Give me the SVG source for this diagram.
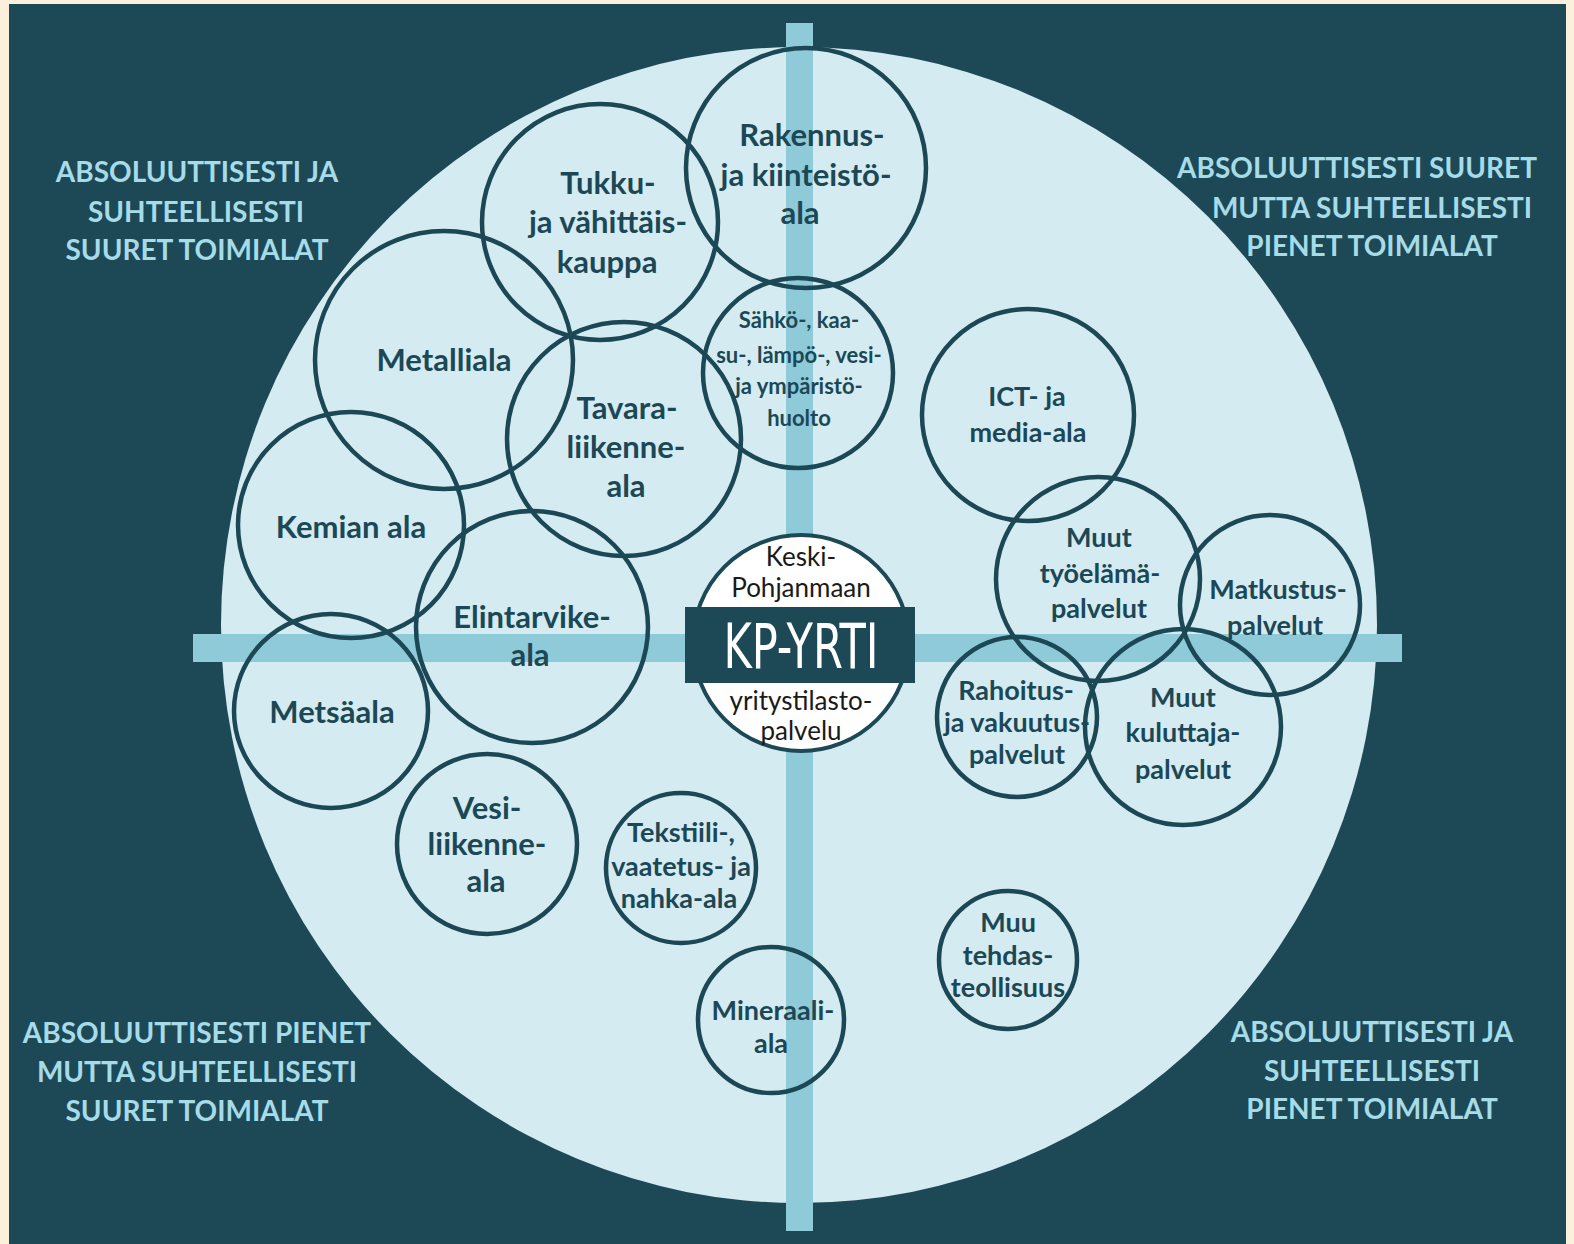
<svg xmlns="http://www.w3.org/2000/svg" width="1574" height="1244" viewBox="0 0 1574 1244">
<defs>
<style>
.node{fill:none;stroke:#1c4856;stroke-width:4.5}
.lbl{font-family:Lato,"Open Sans","Liberation Sans",sans-serif;font-weight:bold;font-size:31px;fill:#1c4856;text-anchor:middle}
.md{font-size:27px}
.sm{font-size:22px}
.corner{font-family:Lato,"Open Sans","Liberation Sans",sans-serif;font-weight:bold;font-size:28px;fill:#a6dbe7;text-anchor:middle}
.ctr{font-family:Lato,"Open Sans","Liberation Sans",sans-serif;font-size:26px;fill:#1a1a1a;text-anchor:middle}
.bar{fill:#8ecad8}
</style>
</defs>
<rect x="0" y="0" width="1574" height="1244" fill="#fbf0db"/>
<rect x="9" y="4" width="1557" height="1240" fill="#1d4957"/>
<circle cx="799" cy="625" r="578" fill="#d4ebf1"/>
<g id="axes">
<rect class="bar" x="786" y="23" width="27" height="1208"/>
<rect class="bar" x="193" y="634" width="1209" height="28"/>
</g>
<g id="corner-labels">
<text class="corner" x="197" y="182">ABSOLUUTTISESTI JA</text>
<text class="corner" x="196" y="222">SUHTEELLISESTI</text>
<text class="corner" x="197" y="260">SUURET TOIMIALAT</text>
<text class="corner" x="1357" y="178" font-size="27">ABSOLUUTTISESTI SUURET</text>
<text class="corner" x="1372" y="218">MUTTA SUHTEELLISESTI</text>
<text class="corner" x="1372" y="256">PIENET TOIMIALAT</text>
<text class="corner" x="197" y="1043">ABSOLUUTTISESTI PIENET</text>
<text class="corner" x="197" y="1082">MUTTA SUHTEELLISESTI</text>
<text class="corner" x="197" y="1121">SUURET TOIMIALAT</text>
<text class="corner" x="1372" y="1042">ABSOLUUTTISESTI JA</text>
<text class="corner" x="1372" y="1081">SUHTEELLISESTI</text>
<text class="corner" x="1372" y="1119">PIENET TOIMIALAT</text>
</g>
<g id="connectors"></g>
<g id="n-rakennus"><circle class="node" cx="806" cy="168" r="120"/>
<text class="lbl" x="812" y="146">Rakennus-</text><text class="lbl" x="806" y="186">ja kiinteistö-</text><text class="lbl" x="800" y="224">ala</text></g>
<g id="n-tukku"><circle class="node" cx="600" cy="222" r="118"/>
<text class="lbl" x="608" y="194">Tukku-</text><text class="lbl" x="608" y="233">ja vähittäis-</text><text class="lbl" x="607" y="273">kauppa</text></g>
<g id="n-metalli"><circle class="node" cx="444" cy="360" r="129"/>
<text class="lbl" x="444" y="371">Metalliala</text></g>
<g id="n-tavara"><circle class="node" cx="624" cy="439" r="117"/>
<text class="lbl" x="627" y="419">Tavara-</text><text class="lbl" x="626" y="458">liikenne-</text><text class="lbl" x="626" y="497">ala</text></g>
<g id="n-sahko"><circle class="node" cx="798" cy="373" r="95"/>
<text class="lbl sm" x="799" y="328">Sähkö-, kaa-</text><text class="lbl sm" x="799" y="363">su-, lämpö-, vesi-</text><text class="lbl sm" x="799" y="394">ja ympäristö-</text><text class="lbl sm" x="799" y="426">huolto</text></g>
<g id="n-kemia"><circle class="node" cx="351" cy="525" r="113"/>
<text class="lbl" x="351" y="538">Kemian ala</text></g>
<g id="n-elintarvike"><circle class="node" cx="532" cy="627" r="116"/>
<text class="lbl" x="532" y="628">Elintarvike-</text><text class="lbl" x="530" y="666">ala</text></g>
<g id="n-metsa"><circle class="node" cx="331" cy="711" r="97"/>
<text class="lbl" x="332" y="723">Metsäala</text></g>
<g id="n-vesi"><circle class="node" cx="487" cy="844" r="90"/>
<text class="lbl" x="487" y="819">Vesi-</text><text class="lbl" x="487" y="855">liikenne-</text><text class="lbl" x="486" y="892">ala</text></g>
<g id="n-tekstiili"><circle class="node" cx="681" cy="868" r="75"/>
<text class="lbl md" x="681" y="842">Tekstiili-,</text><text class="lbl md" x="681" y="876">vaatetus- ja</text><text class="lbl md" x="679" y="908">nahka-ala</text></g>
<g id="n-mineraali"><circle class="node" cx="771" cy="1020" r="73"/>
<text class="lbl md" x="773" y="1020">Mineraali-</text><text class="lbl md" x="771" y="1053">ala</text></g>
<g id="n-ict"><circle class="node" cx="1028" cy="415" r="106"/>
<text class="lbl md" x="1027" y="406">ICT- ja</text><text class="lbl md" x="1028" y="442">media-ala</text></g>
<g id="n-tyoelama"><circle class="node" cx="1098" cy="579" r="102"/>
<text class="lbl md" x="1099" y="547">Muut</text><text class="lbl md" x="1100" y="583">työelämä-</text><text class="lbl md" x="1099" y="618">palvelut</text></g>
<g id="n-matkustus"><circle class="node" cx="1270" cy="605" r="90"/>
<text class="lbl md" x="1278" y="599">Matkustus-</text><text class="lbl md" x="1275" y="635">palvelut</text></g>
<g id="n-rahoitus"><circle class="node" cx="1017" cy="717" r="80"/>
<text class="lbl md" x="1016" y="700">Rahoitus-</text><text class="lbl md" x="1017" y="732">ja vakuutus-</text><text class="lbl md" x="1017" y="764">palvelut</text></g>
<g id="n-kuluttaja"><circle class="node" cx="1183" cy="727" r="98"/>
<text class="lbl md" x="1183" y="707">Muut</text><text class="lbl md" x="1183" y="742">kuluttaja-</text><text class="lbl md" x="1183" y="779">palvelut</text></g>
<g id="n-tehdas"><circle class="node" cx="1008" cy="960" r="69"/>
<text class="lbl md" x="1008" y="932">Muu</text><text class="lbl md" x="1008" y="965">tehdas-</text><text class="lbl md" x="1008" y="997">teollisuus</text></g>
<g id="n-kpyrti">
<circle cx="801" cy="643" r="108" fill="#ffffff" stroke="#1d4957" stroke-width="4"/>
<rect x="685" y="607" width="230" height="76" fill="#1d4957"/>
<text class="ctr" x="801" y="566">Keski-</text>
<text class="ctr" x="801" y="597">Pohjanmaan</text>
<text x="801" y="668" font-family="'Liberation Sans Narrow','DejaVu Sans Condensed','Liberation Sans',sans-serif" font-size="62" fill="#ffffff" text-anchor="middle" textLength="155" lengthAdjust="spacingAndGlyphs">KP-YRTI</text>
<text class="ctr" x="801" y="710">yritystilasto-</text>
<text class="ctr" x="801" y="740">palvelu</text>
</g>
</svg>
